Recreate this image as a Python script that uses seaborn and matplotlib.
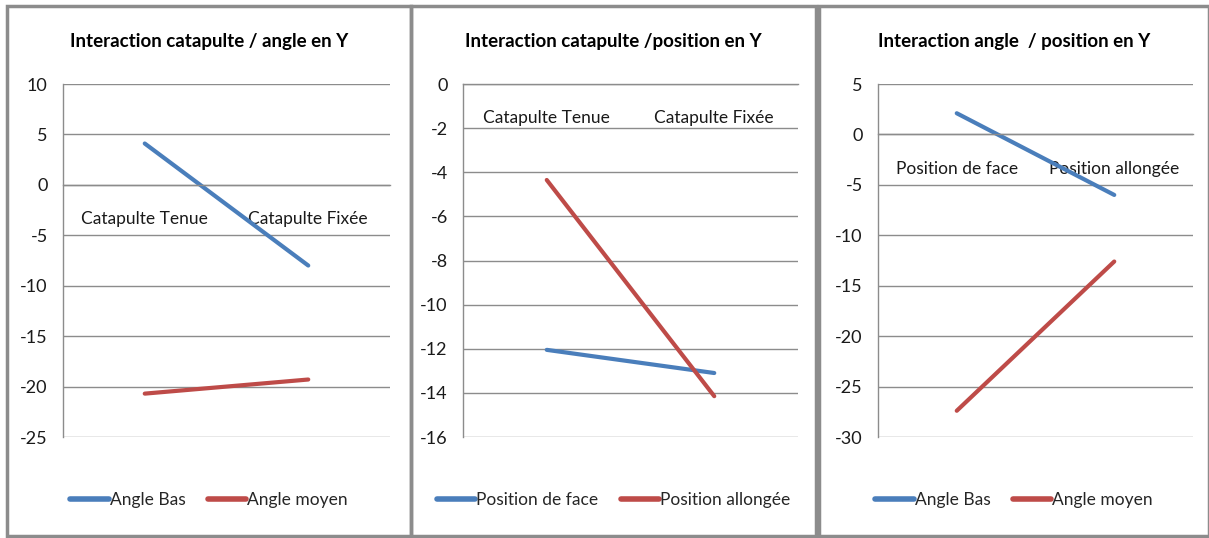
import pandas as pd
import matplotlib.pyplot as plt
import seaborn as sns
from matplotlib.patches import Rectangle

# Values
cat_catapulte = ["Catapulte Tenue", "Catapulte Fixée"]
cat_position = ["Position de face", "Position allongée"]

p1_series = ["Angle Bas", "Angle moyen"]
p1_angle_bas = [4.1, -8.0]
p1_angle_moyen = [-20.7, -19.3]

p2_series = ["Position de face", "Position allongée"]
p2_face = [-12.05, -13.1]
p2_allongee = [-4.35, -14.15]

p3_series = ["Angle Bas", "Angle moyen"]
p3_angle_bas = [2.1, -6.0]
p3_angle_moyen = [-27.4, -12.6]

titles = ["Interaction catapulte / angle en Y",
          "Interaction catapulte /position en Y",
          "Interaction angle  / position en Y"]
y_limits = [(-25, 10), (-16, 0), (-30, 5)]
y_steps = [5, 2, 5]

sns.set_theme(style="white")
plt.rcParams['font.family'] = ['Lato', 'DejaVu Sans']
plt.rcParams['axes.unicode_minus'] = False

colors = ["#4A7EBB", "#BE4B48"]
W, H = 1209, 538


def long_form(cats, series, vals_a, vals_b):
    rows = []
    for name, vals in zip(series, [vals_a, vals_b]):
        for c, v in zip(cats, vals):
            rows.append({"cat": c, "serie": name, "val": v})
    return pd.DataFrame(rows)


frames = [
    long_form(cat_catapulte, p1_series, p1_angle_bas, p1_angle_moyen),
    long_form(cat_catapulte, p2_series, p2_face, p2_allongee),
    long_form(cat_position, p3_series, p3_angle_bas, p3_angle_moyen),
]

# panel boxes and plot areas, in pixels
boxes = [(7, 411), (411, 816), (819, 1209)]
areas = [(63, 390), (463, 798), (878, 1193)]
top_px, bot_px = 84, 437

fig = plt.figure(figsize=(W / 100, H / 100), dpi=100)

for i, df in enumerate(frames):
    x0, x1 = areas[i]
    ax = fig.add_axes([x0 / W, 1 - bot_px / H, (x1 - x0) / W, (bot_px - top_px) / H])
    sns.lineplot(data=df, x="cat", y="val", hue="serie", palette=colors,
                 linewidth=3, sort=False, ax=ax)
    lo, hi = y_limits[i]
    ax.set_ylim(lo, hi)
    ax.set_yticks(range(lo, hi + 1, y_steps[i]))
    ax.set_xlim(-0.5, 1.5)
    ax.set_xlabel("")
    ax.set_ylabel("")
    ax.yaxis.grid(True, color="#8C8C8C", linewidth=1)
    ax.set_axisbelow(True)
    for s in ["top", "right"]:
        ax.spines[s].set_visible(False)
    ax.spines["left"].set_color("#8C8C8C")
    ax.spines["left"].set_linewidth(1)
    ax.spines["bottom"].set_position(("data", 0))
    ax.spines["bottom"].set_color("#8C8C8C")
    ax.spines["bottom"].set_linewidth(1)
    ax.tick_params(axis="y", length=0, pad=11, labelsize=13, labelcolor="#1a1a1a")
    ax.tick_params(axis="x", length=0, pad=19, labelsize=12.5, labelcolor="#1a1a1a")

    bx0, bx1 = boxes[i]
    cx = (bx0 + bx1) / 2 / W
    fig.text(cx, 1 - 42 / H, titles[i], ha="center", va="center",
             fontsize=13.5, fontweight="bold", color="black")
    sns.move_legend(ax, "center", bbox_to_anchor=(cx, 1 - 500 / H),
                    bbox_transform=fig.transFigure, ncol=2, frameon=False,
                    title=None, fontsize=12.5, handlelength=2.2, handletextpad=0.05,
                    columnspacing=1.3)
    for line in ax.get_legend().get_lines():
        line.set_linewidth(4)

    fig.add_artist(Rectangle((bx0 / W, 1 - 536 / H), (bx1 - bx0) / W, 530 / H,
                             transform=fig.transFigure, fill=False,
                             edgecolor="#8C8C8C", linewidth=2.5))

plt.savefig("out.png", dpi=100)
